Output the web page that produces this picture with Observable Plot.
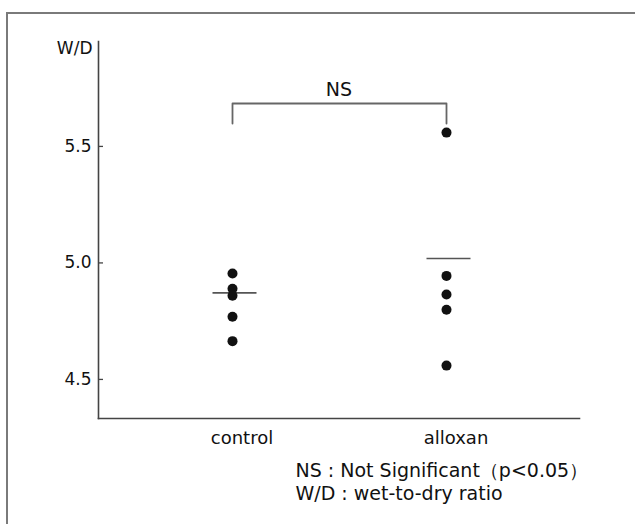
<!DOCTYPE html>
<html>
<head>
<meta charset="utf-8">
<script src="https://cdn.jsdelivr.net/npm/d3@7"></script>
<script src="https://cdn.jsdelivr.net/npm/@observablehq/plot@0.6"></script>
<style>
  html, body { margin: 0; padding: 0; background: #fff; }
  #wrap { position: relative; width: 635px; height: 524px; overflow: hidden; }
  #border { position: absolute; left: 6px; top: 12px; width: 700px; height: 600px;
            border-top: 2px solid #7a7a7a; border-left: 2px solid #7a7a7a; }
  #chart { position: absolute; left: 0; top: 0; }
  svg { font-family: "DejaVu Sans", sans-serif; }
</style>
</head>
<body>
<div id="wrap"><div id="border"></div><div id="chart"></div></div>
<script>
// ---- data ----
const groups = ["control", "alloxan"];
const controlValues = [4.95, 4.885, 4.855, 4.765, 4.66];
const alloxanValues = [5.555, 4.94, 4.86, 4.795, 4.555];
const groupMeans = [4.867, 5.015];
const yTicks = [4.5, 5.0, 5.5];
const bracketLow = 5.594;
const bracketHigh = 5.68;
const sigY = 5.71;
const sigLabel = "NS";
const yLabel = "W/D";
const notes = ["NS : Not Significant（p<0.05）", "W/D : wet-to-dry ratio"];

// ---- tables built from the arrays ----
const points = [
  ...controlValues.map(v => ({group: groups[0], value: v})),
  ...alloxanValues.map(v => ({group: groups[1], value: v}))
];
const means = groups.map((g, i) => ({group: g, value: groupMeans[i]}));
const bracket = [
  {group: groups[0], value: bracketLow},
  {group: groups[0], value: bracketHigh},
  {group: groups[1], value: bracketHigh},
  {group: groups[1], value: bracketLow}
];

const ink = "#111";
const chart = Plot.plot({
  width: 635,
  height: 524,
  marginLeft: 98,
  marginRight: 56,
  marginTop: 41,
  marginBottom: 106,
  style: {fontFamily: "DejaVu Sans, sans-serif", color: ink, background: "transparent"},
  x: {type: "band", domain: groups, paddingInner: 0.7944, paddingOuter: 0.5187, axis: null},
  y: {domain: [4.328, 5.946], axis: null},
  marks: [
    Plot.frame({anchor: "left", stroke: "#444", strokeWidth: 1.6}),
    Plot.frame({anchor: "bottom", stroke: "#444", strokeWidth: 1.6}),
    Plot.axisY({ticks: yTicks, tickFormat: d3.format(".1f"), tickSize: -5, tickPadding: 12,
                fontSize: 17, stroke: "#444", strokeWidth: 1.3, fill: ink, dy: 1, label: null}),
    Plot.axisX({tickSize: 0, tickPadding: 13, fontSize: 18, fill: ink, dx: 9.5, label: null}),
    Plot.text([yLabel], {frameAnchor: "top-left", dx: -6, dy: 7, textAnchor: "end",
                         lineAnchor: "middle", fontSize: 17, fill: ink}),
    Plot.line(bracket, {x: "group", y: "value", stroke: "#666", strokeWidth: 1.8}),
    Plot.text([sigLabel], {y: () => sigY, frameAnchor: "middle", lineAnchor: "bottom",
                           fontSize: 19, fill: ink}),
    Plot.tickY(means, {x: "group", y: "value", insetLeft: 2.5, insetRight: -2.5,
                       stroke: "#555", strokeWidth: 1.6}),
    Plot.dot(points, {x: "group", y: "value", r: 5, fill: "#111", stroke: "none"}),
    Plot.text([notes[0]], {frameAnchor: "bottom-left", dx: 197, dy: 58, textAnchor: "start",
                           lineAnchor: "bottom", fontSize: 19, fill: ink}),
    Plot.text([notes[1]], {frameAnchor: "bottom-left", dx: 197, dy: 81, textAnchor: "start",
                           lineAnchor: "bottom", fontSize: 19, fill: ink})
  ]
});
document.getElementById("chart").appendChild(chart);
</script>
</body>
</html>
